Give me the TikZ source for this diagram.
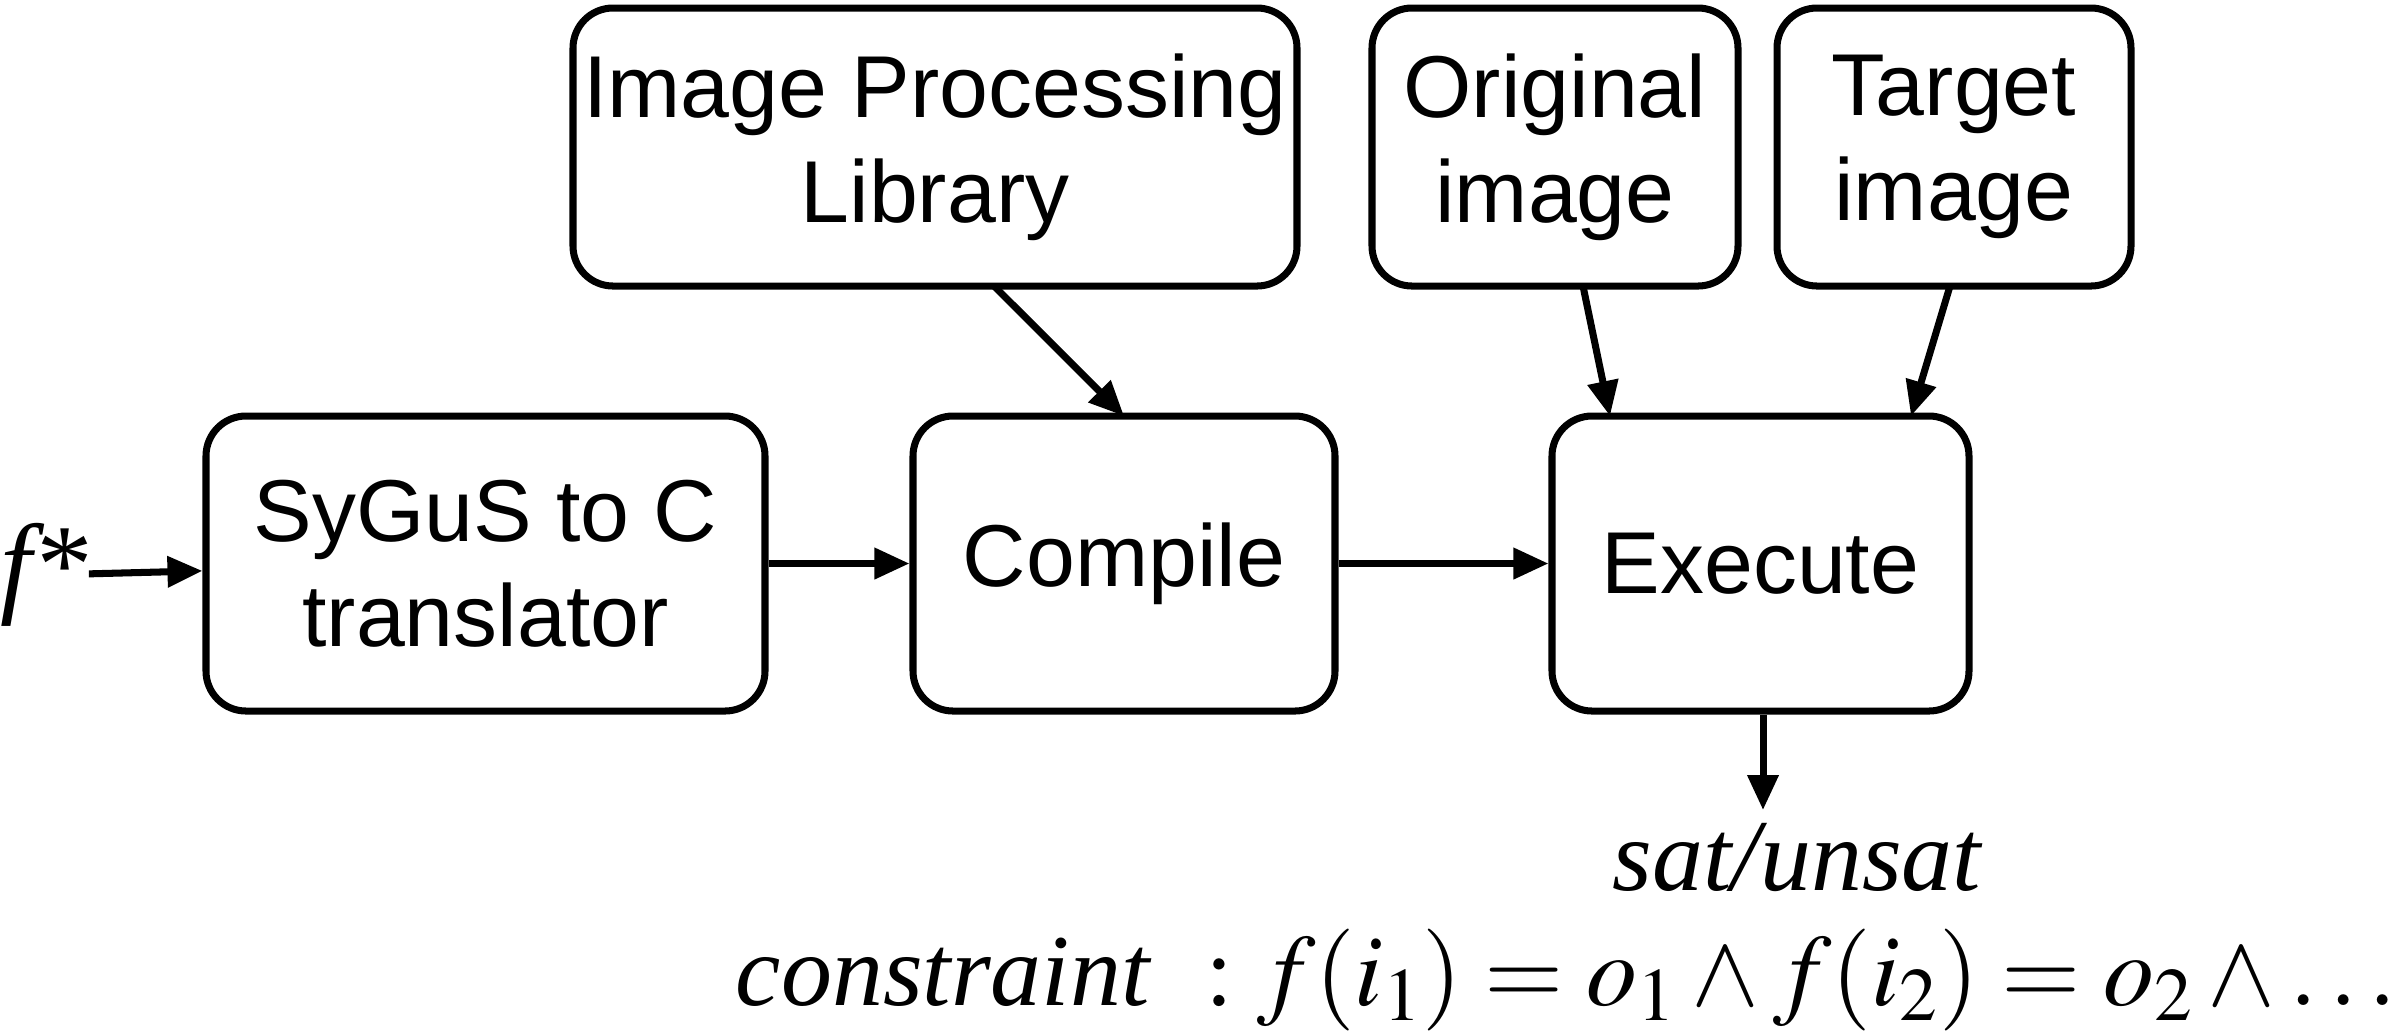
\documentclass[tikz,border=0pt]{standalone}
\usepackage{mathptmx}
\usepackage{fontspec}
\setmainfont{Liberation Sans}
\newfontfamily\serifit{Liberation Serif}
\usetikzlibrary{arrows.meta}
\begin{document}
\begin{tikzpicture}[
        block/.style={draw, line width=2pt, rounded corners=0.4cm, align=center,
            font=\fontsize{25}{30}\selectfont, inner sep=0pt},
        flow/.style={draw, line width=2pt, -{Triangle[length=0.35cm, width=0.3cm]}},
        mathtext/.style={font=\fontsize{29}{34}\selectfont, inner sep=0pt},
    ]
	\useasboundingbox (0,0) rectangle (23.98,-10.32);
	\node[block, minimum width=5.59cm, minimum height=2.95cm] (sygus) at (4.855,-5.635) {SyGuS to C\\translator};
	\node[block, minimum width=4.22cm, minimum height=2.95cm] (compile) at (11.24,-5.635) {Compile};
	\node[block, minimum width=4.17cm, minimum height=2.95cm] (execute) at (17.605,-5.635) {Execute};
	\node[block, minimum width=7.24cm, minimum height=2.78cm] (lib) at (9.35,-1.47) {Image Processing\\Library};
	\node[block, minimum width=3.66cm, minimum height=2.78cm] (orig) at (15.55,-1.47) {Original\\image};
	\node[block, minimum width=3.54cm, minimum height=2.78cm] (target) at (19.54,-1.47) {Target\\image};
	\node[mathtext, anchor=west, font=\fontsize{32}{36}\selectfont] (fstar) at (0,-5.75) {\serifit\itshape f*};
	\coordinate (out) at (17.63,-8.1);
	\node[mathtext, anchor=base] (sat) at (17.97,-8.9) {\serifit\itshape sat/unsat};
	\node[mathtext, anchor=base east] (constr) at (23.98,-10.05) {{\serifit\itshape constraint}\ \ $: f(i_1) = o_1 \wedge f(i_2) = o_2 \wedge \ldots$};
	\draw[flow] (fstar) -- (sygus);
	\draw[flow] (sygus) -- (compile);
	\draw[flow] (compile) -- (execute);
	\draw[flow] (9.94,-2.86) -- (11.24,-4.16);
	\draw[flow] (15.83,-2.86) -- (16.10,-4.16);
	\draw[flow] (19.50,-2.86) -- (19.11,-4.16);
	\draw[flow] (execute.south -| out) -- (out);
\end{tikzpicture}
\end{document}
